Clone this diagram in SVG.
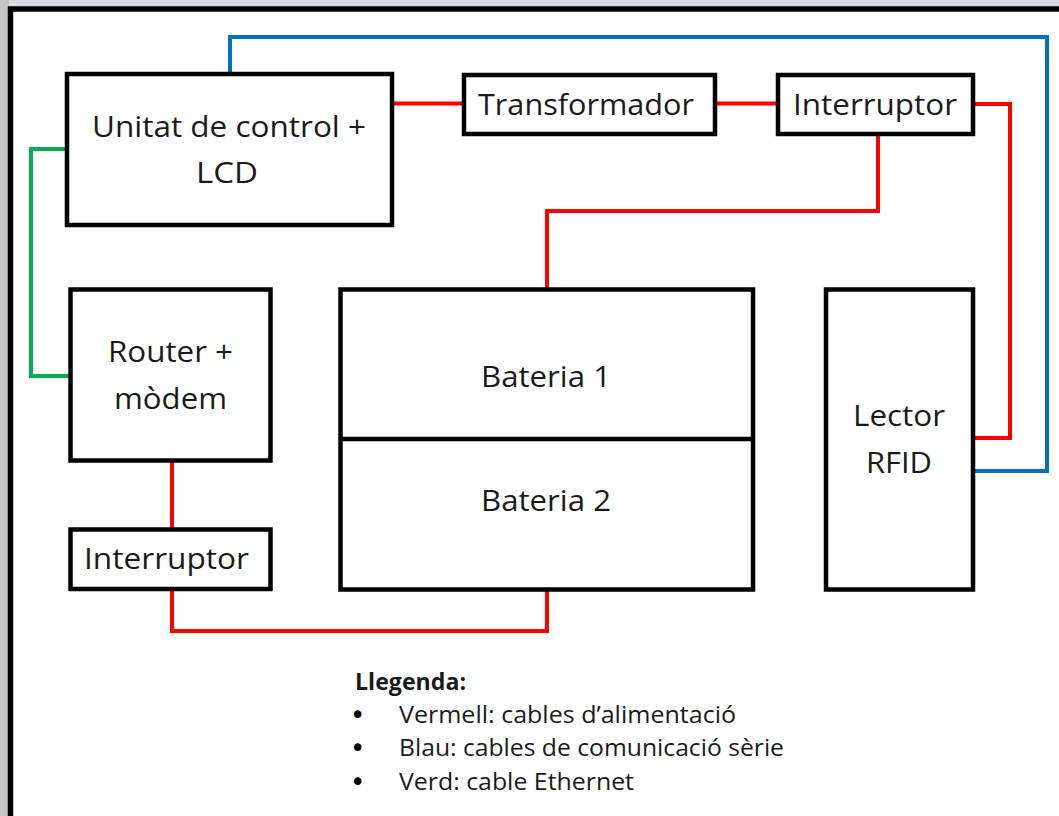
<svg xmlns="http://www.w3.org/2000/svg" width="1059" height="816" viewBox="0 0 1059 816">
  <style>
    .box { fill: #ffffff; stroke: #000000; stroke-width: 4.5; }
    .lbl { font-family: "Open Sans", "DejaVu Sans", sans-serif; font-size: 29px; fill: #1a1a1a; text-anchor: start; }
    .leg { font-family: "Open Sans", "DejaVu Sans", sans-serif; font-size: 23px; fill: #1a1a1a; }
    .dot { font-family: "DejaVu Sans", sans-serif; font-size: 26px; fill: #000000; }
    .wire { fill: none; stroke-width: 4; stroke-linejoin: miter; stroke-linecap: butt; }
    .red { stroke: #ff0000; }
    .blue { stroke: #0070c0; }
    .green { stroke: #00b050; }
  </style>

  <!-- page surround and frame -->
  <rect x="0" y="0" width="1059" height="816" fill="#d9dde1"/>
  <rect x="0" y="0" width="9" height="816" fill="#c6c6c4"/>
  <rect x="10.5" y="9" width="1060" height="820" fill="#ffffff" stroke="#000000" stroke-width="5.5"/>

  <!-- cables -->
  <g id="connectors">
    <polyline class="wire red" points="392,103.5 464,103.5"/>
    <polyline class="wire red" points="717,103.5 778,103.5"/>
    <polyline class="wire red" points="973,104 1010,104 1010,438 973,438"/>
    <polyline class="wire red" points="878,134 878,211 547,211 547,289.5"/>
    <polyline class="wire red" points="172,460.5 172,529.5"/>
    <polyline class="wire red" points="172,589 172,631 547,631 547,589.5"/>
    <polyline class="wire blue" points="230,74 230,37 1047,37 1047,471 973,471"/>
    <polyline class="wire green" points="67,149 31,149 31,376 70.5,376"/>
  </g>

  <g id="unitat-control">
    <rect class="box" x="67" y="74" width="325" height="151"/>
    <text class="lbl" x="92" y="137" textLength="274" lengthAdjust="spacingAndGlyphs">Unitat de control +</text>
    <text class="lbl" x="196" y="183" textLength="62" lengthAdjust="spacingAndGlyphs">LCD</text>
  </g>

  <g id="transformador">
    <rect class="box" x="464" y="75" width="251" height="59"/>
    <text class="lbl" x="478" y="115" textLength="216" lengthAdjust="spacingAndGlyphs">Transformador</text>
  </g>

  <g id="interruptor-1">
    <rect class="box" x="778" y="75" width="195" height="59"/>
    <text class="lbl" x="793" y="115" textLength="164" lengthAdjust="spacingAndGlyphs">Interruptor</text>
  </g>

  <g id="router">
    <rect class="box" x="70.5" y="289.5" width="200" height="171"/>
    <text class="lbl" x="108" y="362" textLength="125" lengthAdjust="spacingAndGlyphs">Router +</text>
    <text class="lbl" x="114" y="409" textLength="113" lengthAdjust="spacingAndGlyphs">mòdem</text>
  </g>

  <g id="interruptor-2">
    <rect class="box" x="70.5" y="529.5" width="200" height="59.5"/>
    <text class="lbl" x="84" y="569" textLength="165" lengthAdjust="spacingAndGlyphs">Interruptor</text>
  </g>

  <g id="bateries">
    <rect class="box" x="340.5" y="289.5" width="412.5" height="300"/>
    <line x1="340.5" y1="439" x2="753" y2="439" stroke="#000000" stroke-width="4.5"/>
    <text class="lbl" x="481" y="387" textLength="130" lengthAdjust="spacingAndGlyphs">Bateria 1</text>
    <text class="lbl" x="481" y="511" textLength="130" lengthAdjust="spacingAndGlyphs">Bateria 2</text>
  </g>

  <g id="lector-rfid">
    <rect class="box" x="826" y="289.5" width="147" height="300"/>
    <text class="lbl" x="853" y="426" textLength="92" lengthAdjust="spacingAndGlyphs">Lector</text>
    <text class="lbl" x="866" y="473" textLength="66" lengthAdjust="spacingAndGlyphs">RFID</text>
  </g>

  <g id="llegenda">
    <text class="leg" x="355" y="690" font-weight="bold" textLength="111" lengthAdjust="spacingAndGlyphs">Llegenda:</text>
    <text class="dot" x="350" y="724">•</text>
    <text class="leg" x="399" y="723" textLength="337" lengthAdjust="spacingAndGlyphs">Vermell: cables d’alimentació</text>
    <text class="dot" x="350" y="757">•</text>
    <text class="leg" x="399" y="756" textLength="385" lengthAdjust="spacingAndGlyphs">Blau: cables de comunicació sèrie</text>
    <text class="dot" x="350" y="791">•</text>
    <text class="leg" x="399" y="790" textLength="235" lengthAdjust="spacingAndGlyphs">Verd: cable Ethernet</text>
  </g>
</svg>
